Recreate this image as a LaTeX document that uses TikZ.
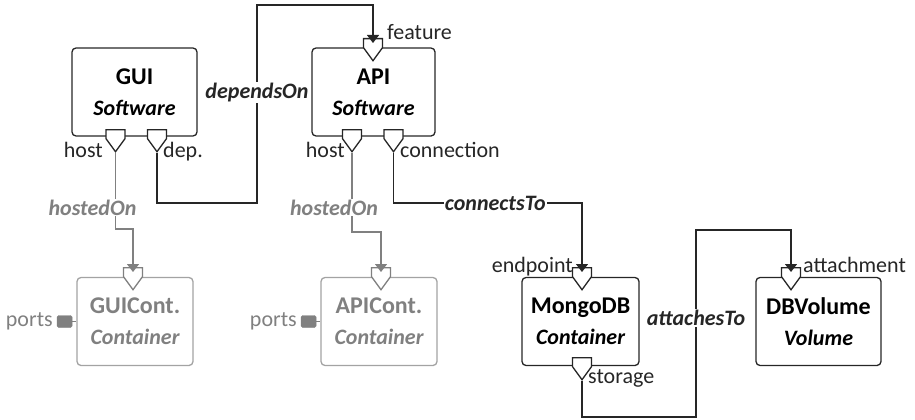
\documentclass[tikz,border=0pt]{standalone}
\usepackage{fontspec}
\setmainfont{Carlito}
\usetikzlibrary{shapes.symbols,arrows.meta,positioning}

\definecolor{ink}{HTML}{262626}
\definecolor{dim}{HTML}{808080}
\definecolor{dimline}{HTML}{A3A3A3}

\tikzset{
  elem/.style={draw=ink, line width=1.3pt, rounded corners=4pt,
    minimum height=88pt, inner sep=0pt, align=center,
    font=\fontsize{22}{31}\selectfont\bfseries},
  elemdim/.style={elem, draw=dimline, text=dim},
  port/.style={shape=signal, signal to=south, signal from=nowhere,
    signal pointer angle=72, draw=ink, fill=white, line width=1.3pt,
    inner sep=0pt, minimum width=19pt, minimum height=9pt},
  portdim/.style={port, draw=dim},
  link/.style={draw=ink, line width=1.3pt},
  linkdim/.style={link, draw=dim},
  tip/.style={-{Triangle[width=12pt,length=8pt]}},
  plabel/.style={font=\fontsize{22}{22}\selectfont, text=ink, inner sep=0pt},
  elabel/.style={font=\fontsize{22}{22}\selectfont\bfseries\itshape,
    text=ink, fill=white, inner sep=1pt},
  elabeldim/.style={elabel, text=dim},
  expose/.style={draw=dim, fill=dim, rounded corners=1.5pt, minimum width=15pt,
    minimum height=12pt, inner sep=0pt}
}

\newcommand{\eltitle}[1]{{\fontsize{24}{31}\selectfont #1}}

\begin{document}
\begin{tikzpicture}[x=1pt,y=-1pt]
\useasboundingbox (0,0) rectangle (915,420);

% elements
\node[elem, minimum width=125pt] (gui) at (134.5,92) {\eltitle{GUI}\\\itshape Software};
\node[elem, minimum width=123pt] (api) at (373.5,92) {\eltitle{API}\\\itshape Software};
\node[elemdim, minimum width=116pt] (guic) at (135,321.5) {\eltitle{GUICont.}\\\itshape Container};
\node[elemdim, minimum width=116pt] (apic) at (379,321.5) {\eltitle{APICont.}\\\itshape Container};
\node[elem, minimum width=117pt] (mongo) at (580.5,321.5) {\eltitle{MongoDB}\\\itshape Container};
\node[elem, minimum width=125pt] (dbvol) at (818.5,321.5) {\eltitle{DBVolume}\\\itshape Volume};

% ports
\node[port, anchor=north] (guihost) at (115.5,129) {};
\node[port, anchor=north] (guidep) at (157,129) {};
\node[port, anchor=north] (apihost) at (352,129) {};
\node[port, anchor=north] (apiconn) at (393.5,129) {};
\node[port, anchor=north] (apifeat) at (373,38) {};
\node[portdim, anchor=north] (guicin) at (133,267) {};
\node[portdim, anchor=north] (apicin) at (381,267) {};
\node[port, anchor=north] (mongoin) at (582,267) {};
\node[port, anchor=north] (mongostor) at (582,357) {};
\node[port, anchor=north] (dbin) at (791,267) {};

% exposed ports of the containers
\node[expose, left=4pt of guic.west] (guicports) {};
\node[expose, left=4pt of apic.west] (apicports) {};
\draw[linkdim] (guicports) -- (guic.west);
\draw[linkdim] (apicports) -- (apic.west);

% port labels
\node[plabel, anchor=base east] (guihostl) at (103,157) {host};
\node[plabel, anchor=base west] (guidepl) at (163,157) {dep.};
\node[plabel, anchor=base east] (apihostl) at (345,157) {host};
\node[plabel, anchor=base west] (apiconnl) at (400,157) {connection};
\node[plabel, anchor=base west] (apifeatl) at (387,40) {feature};
\node[plabel, anchor=base east] (mongoinl) at (573,272) {endpoint};
\node[plabel, anchor=base west] (mongostorl) at (588,383) {storage};
\node[plabel, anchor=base west] (dbinl) at (803,272) {attachment};
\node[plabel, text=dim, left=4pt of guicports] (guicportsl) {ports};
\node[plabel, text=dim, left=4pt of apicports] (apicportsl) {ports};

% relations
\draw[link, tip] (guidep.south) |- (257,203)
  -- node[elabel, pos=0.56] (depon) {dependsOn} (257,5)
  -| ([yshift=-5pt]apifeat.north);
\draw[linkdim, tip] (guihost.south) -- (115.5,229) -| ([yshift=-5pt]guicin.north);
\draw[linkdim, tip] (apihost.south) -- (352,232) -| ([yshift=-5pt]apicin.north);
\draw[link, tip] (apiconn.south) |- node[elabel, pos=0.77] (conto) {connectsTo} (582,203)
  -- ([yshift=-5pt]mongoin.north);
\draw[link, tip] (mongostor.south) |- (696,417)
  -- node[elabel, pos=0.53] (attto) {attachesTo} (696,230)
  -| ([yshift=-5pt]dbin.north);
\node[elabeldim] (guihon) at (92.5,207.5) {hostedOn};
\node[elabeldim] (apihon) at (334,207.5) {hostedOn};

\end{tikzpicture}
\end{document}
